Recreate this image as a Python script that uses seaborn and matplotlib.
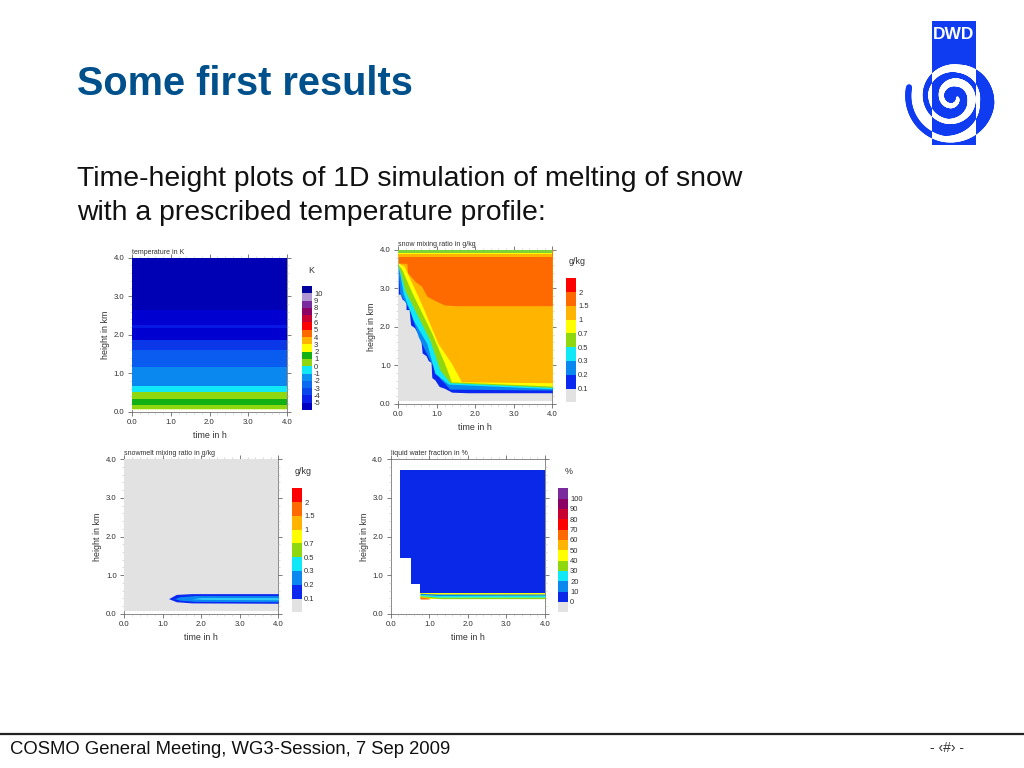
import numpy as np
import matplotlib
matplotlib.use("Agg")
import matplotlib.pyplot as plt
import seaborn as sns
from matplotlib.collections import LineCollection
from matplotlib.colors import ListedColormap
from matplotlib.patches import Rectangle

# ---------- text ----------
slide_title = "Some first results"
body_lines = ["Time-height plots of 1D simulation of melting of snow",
              "with a prescribed temperature profile:"]
footer_left = "COSMO General Meeting, WG3-Session, 7 Sep 2009"
footer_right = "- \u2039#\u203a -"
axis_ticks = [0.0, 1.0, 2.0, 3.0, 4.0]
axis_tick_labels = ["0.0", "1.0", "2.0", "3.0", "4.0"]

# ---------- colours ----------
NAVY, LILAC, PURPLE, MAROON = "#00009c", "#b194d2", "#7a2a9c", "#8c0064"
CRIMSON, RED, ORANGE, AMBER = "#c80032", "#ff0000", "#ff6a00", "#ffb400"
YELLOW, GREEN, YGREEN, CYAN = "#ffff00", "#12b012", "#8fd80f", "#10e8f8"
MIDBLUE, BLUE, GREY = "#0a88f0", "#0a28f0", "#e2e2e2"
B1, B2, B3, B4, B5 = "#0a90f0", "#0a6af0", "#0a46ec", "#0a20e8", "#0000c0"

# ---------- panel 1: temperature bands (height edges in km) ----------
temp_edges = [4.0, 2.65, 2.25, 2.18, 1.85, 1.6, 1.15, 0.68, 0.5, 0.33, 0.18, 0.08, 0.05]
temp_colors = ["#0000b4", "#0000d0", "#0818e4", "#0000d0", "#0a38e8", "#0a5cf0",
               "#0a88f0", CYAN, YGREEN, GREEN, YGREEN, "#e8f4a0"]
temp_cbar_colors = [NAVY, LILAC, PURPLE, MAROON, CRIMSON, RED, ORANGE, AMBER, YELLOW,
                    GREEN, YGREEN, CYAN, B1, B2, B3, B4, B5]
temp_cbar_labels = ["10", "9", "8", "7", "6", "5", "4", "3", "2", "1", "0",
                    "-1", "-2", "-3", "-4", "-5"]

# ---------- panel 2: snow contours, lower boundary of each level ----------
snow_t_01 = [0, .05, .1, .2, .2, .28, .32, .42, .52, .58, .62, .72, .78, .85, .87, .95, 1.06, 1.2, 1.39, 1.8, 4]
snow_h_01 = [2.85, 2.85, 2.72, 2.65, 2.45, 2.45, 2.05, 1.98, 1.8, 1.72, 1.32, 1.25, 1.12, 1.08, .68, .62, .45, .4, .3, .285, .285]
snow_t_02 = [0, .04, .3, .52, .82, 1.08, 1.34, 4]
snow_h_02 = [3.43, 2.87, 2.43, 1.74, 1.13, .66, .38, .355]
snow_t_03 = [0, .02, .13, .39, .74, .95, 1.3, 4]
snow_h_03 = [3.52, 3.47, 2.87, 2.17, 1.57, .79, .51, .39]
snow_t_05 = [0, .04, .17, .82, 1.08, 1.34, 4]
snow_h_05 = [3.56, 3.47, 2.95, 1.65, .88, .55, .425]
snow_t_07 = [0, .09, .35, .87, 1.2, 1.38, 4]
snow_h_07 = [3.62, 3.5, 2.9, 1.83, 1.05, .57, .46]
snow_t_10 = [0, .15, .6, 1.03, 1.38, 1.64, 4]
snow_h_10 = [3.66, 3.58, 2.6, 1.57, 1.05, .57, .545]
snow_t_15 = [0, .22, .24, .44, .61, .74, .92, 1.2, 1.5, 4]
snow_h_15 = [3.66, 3.65, 3.41, 3.18, 3.05, 2.8, 2.7, 2.57, 2.55, 2.55]
snow_top_edges = [3.81, 3.89, 3.93, 4.0]
snow_top_colors = [AMBER, YELLOW, "#7ed33a"]
ground_h = 0.08

mix_cbar_colors = [RED, ORANGE, AMBER, YELLOW, YGREEN, CYAN, MIDBLUE, BLUE, GREY]
mix_cbar_labels = ["2", "1.5", "1", "0.7", "0.5", "0.3", "0.2", "0.1"]

# ---------- panel 3: snowmelt plume (time, upper and lower height) ----------
melt_t_blue = [1.15, 1.35, 1.75, 4]
melt_up_blue = [.39, .5, .52, .52]
melt_lo_blue = [.39, .31, .28, .27]
melt_t_mid = [1.3, 1.45, 1.85, 4]
melt_up_mid = [.39, .44, .47, .47]
melt_lo_mid = [.39, .35, .32, .31]
melt_t_cyan = [1.75, 2.0, 4]
melt_up_cyan = [.39, .42, .42]
melt_lo_cyan = [.39, .37, .36]

# ---------- panel 4: liquid water fraction ----------
lwf_t = [.25, .25, .52, .52, .76, .76, 4]
lwf_lo = [3.72, 1.45, 1.45, .78, .78, .53, .53]
lwf_top = 3.72
lwf_t_mid = [.76, 1.2, 4]
lwf_h_mid = [.53, .51, .51]
lwf_t_cyan = [.76, 1.2, 4]
lwf_h_cyan = [.5, .47, .48]
lwf_t_green = [.76, 1.3, 4]
lwf_h_green = [.47, .43, .43]
lwf_t_yellow = [.76, 1.3, 4]
lwf_h_yellow = [.44, .39, .39]
lwf_floor = .38
lwf_t_hot = [.76, 1.0]
lwf_h_hot = [.44, .4]
lwf_cbar_colors = [PURPLE, MAROON, CRIMSON, RED, ORANGE, AMBER, YELLOW, YGREEN, CYAN,
                   MIDBLUE, "#0a28e8", GREY]
lwf_cbar_labels = ["100", "90", "80", "70", "60", "50", "40", "30", "20", "10", "0"]

# ---------- set-up ----------
sns.set_theme(style="white", rc={"axes.facecolor": "white"})
plt.rcParams["font.family"] = ["Liberation Sans", "DejaVu Sans"]
W, H = 1024, 768
fig = plt.figure(figsize=(W / 100, H / 100), dpi=100, facecolor="white")


def add_px(x0, y0, x1, y1):
    return fig.add_axes([x0 / W, 1 - y1 / H, (x1 - x0) / W, (y1 - y0) / H])


INK = "#303030"
page = add_px(0, 0, W, H)
page.set_xlim(0, W)
page.set_ylim(H, 0)
page.axis("off")


def panel(box, title):
    ax = add_px(*box)
    ax.set_xlim(0, 4)
    ax.set_ylim(0, 4)
    ax.set_xticks(axis_ticks, axis_tick_labels)
    ax.set_yticks(axis_ticks, axis_tick_labels)
    ax.set_xticks(np.arange(0, 4.01, 0.2), minor=True)
    ax.set_yticks(np.arange(0, 4.01, 0.2), minor=True)
    ax.tick_params(which="major", direction="out", length=3, width=.6, color="#666666",
                   top=True, right=True, bottom=True, left=True, labelsize=5.6,
                   labelcolor=INK, pad=2.5)
    ax.tick_params(which="minor", direction="out", length=1.2, width=.4, color="#bbbbbb",
                   top=True, right=True, bottom=True, left=True)
    ax.set_axisbelow(True)
    for s in ax.spines.values():
        s.set_linewidth(.6)
        s.set_color("#777777")
        s.set_zorder(0.5)
    ax.set_xlabel("time in h", fontsize=6.4, color=INK, labelpad=3.5)
    ax.set_ylabel("height in km", fontsize=6.4, color=INK, labelpad=2.5)
    ax.text(0, 1.012, title, transform=ax.transAxes, fontsize=5, color=INK, ha="left", va="bottom")
    return ax


def colorbar(box, colors, labels, unit, unit_xy):
    ax = add_px(*box)
    n = len(colors)
    grid = np.arange(n).reshape(-1, 1)
    sns.heatmap(grid, ax=ax, cmap=ListedColormap(sns.color_palette(colors)), cbar=False,
                xticklabels=False, yticklabels=False, linewidths=0)
    ax.set_yticks(np.arange(1, n), labels, rotation=0)
    ax.yaxis.tick_right()
    ax.tick_params(axis="y", length=0, labelsize=5.5, labelcolor=INK, pad=1.5)
    ax.tick_params(axis="x", length=0)
    page.text(unit_xy[0], unit_xy[1], unit, fontsize=6.4, color=INK, ha="center", va="center")
    return ax


# ---------- panel 1 ----------
ax1 = panel((132, 257.7, 287, 411.7), "temperature in K")
for top, low, c in zip(temp_edges[:-1], temp_edges[1:], temp_colors):
    ax1.fill_between([0, 4], low, top, color=c, lw=0)
colorbar((302, 286, 312, 410), temp_cbar_colors, temp_cbar_labels, "K", (311.5, 270.5))

# ---------- panel 2 ----------
ax2 = panel((398.3, 250, 552.3, 403.7), "snow mixing ratio in g/kg")
ax2.fill_between([0, 4], ground_h, 4, color=GREY, lw=0)
for t, h, c in [(snow_t_01, snow_h_01, BLUE), (snow_t_02, snow_h_02, MIDBLUE),
                (snow_t_03, snow_h_03, CYAN), (snow_t_05, snow_h_05, YGREEN),
                (snow_t_07, snow_h_07, YELLOW), (snow_t_10, snow_h_10, AMBER),
                (snow_t_15, snow_h_15, ORANGE)]:
    ax2.fill_between(t, h, 4, color=c, lw=0)
for low, top, c in zip(snow_top_edges[:-1], snow_top_edges[1:], snow_top_colors):
    ax2.fill_between([0, 4], low, top, color=c, lw=0)
colorbar((566.3, 278.3, 576, 402.3), mix_cbar_colors, mix_cbar_labels, "g/kg", (577, 262))

# ---------- panel 3 ----------
ax3 = panel((124.3, 459.3, 278.3, 613.7), "snowmelt mixing ratio in g/kg")
ax3.fill_between([0, 4], ground_h, 4, color=GREY, lw=0)
ax3.fill_between(melt_t_blue, melt_lo_blue, melt_up_blue, color=BLUE, lw=0)
ax3.fill_between(melt_t_mid, melt_lo_mid, melt_up_mid, color=MIDBLUE, lw=0)
ax3.fill_between(melt_t_cyan, melt_lo_cyan, melt_up_cyan, color="#30c8f8", lw=0)
colorbar((292.3, 488.3, 302, 612.3), mix_cbar_colors, mix_cbar_labels, "g/kg", (303, 472))

# ---------- panel 4 ----------
ax4 = panel((390.7, 459.3, 545, 613.7), "liquid water fraction in %")
ax4.fill_between(lwf_t, lwf_lo, lwf_top, color="#0a28e8", lw=0)
ax4.fill_between([.76, 4], lwf_floor, .53, color=YELLOW, lw=0)
ax4.fill_between(lwf_t_green, lwf_h_yellow, lwf_h_green, color=YGREEN, lw=0)
ax4.fill_between(lwf_t_cyan, lwf_h_green, lwf_h_cyan, color=CYAN, lw=0)
ax4.fill_between(lwf_t_mid, lwf_h_cyan, lwf_h_mid, color=MIDBLUE, lw=0)
ax4.fill_between(lwf_t_hot, lwf_floor, lwf_h_hot, color=ORANGE, lw=0)
colorbar((558.3, 488.3, 568, 612.3), lwf_cbar_colors, lwf_cbar_labels, "%", (569, 472))

# ---------- slide furniture ----------
page.text(77, 84, slide_title, fontsize=28.6, fontweight="bold", color="#00508c", ha="left", va="center")
page.text(77, 178.5, body_lines[0], fontsize=20.45, color="#111111", ha="left", va="center")
page.text(77, 213.5, body_lines[1], fontsize=20.45, color="#111111", ha="left", va="center")
page.plot([0, W], [733.5, 733.5], color="#222222", lw=1.6)
page.text(10, 749.5, footer_left, fontsize=13.3, color="#111111", ha="left", va="center")
page.text(947, 748, footer_right, fontsize=10, color="#333333", ha="center", va="center")

# logo: rectangle with a spiral that swaps colour on it
LOGO = "#0f3cf0"
cx, cy = 953, 97
key_theta = np.array([0, .5, 1, 1.5, 2, 2.5, 3, 3.5, 4, 4.5, 5]) * np.pi
key_r = np.array([45, 43, 35, 29, 28, 25, 19, 15, 12, 9, 4.5], float)
key_w = np.array([6, 6, 14, 8, 5, 5, 8, 8, 5, 5, 3], float)
theta = np.linspace(0, 5 * np.pi, 500)
r = np.interp(theta, key_theta, key_r)
ang = np.pi + .22 - theta
px = cx + r * np.cos(ang)
py = cy + r * np.sin(ang)
pts = np.column_stack([px, py]).reshape(-1, 1, 2)
segs = np.concatenate([pts[:-1], pts[1:]], axis=1)
widths = np.interp(theta[:-1], key_theta, key_w) * .72
page.add_collection(LineCollection(segs, colors=LOGO, linewidths=widths, capstyle="round", zorder=2))
rect = Rectangle((932, 21), 44, 124, facecolor=LOGO, edgecolor="none", zorder=3)
page.add_patch(rect)
white = LineCollection(segs, colors="white", linewidths=widths, capstyle="round", zorder=4)
page.add_collection(white)
white.set_clip_path(rect)
page.text(953.5, 34.5, "DWD", fontsize=12.5, fontweight="bold", color="white", ha="center", va="center",
          zorder=5)

fig.savefig("out.png", dpi=100)
